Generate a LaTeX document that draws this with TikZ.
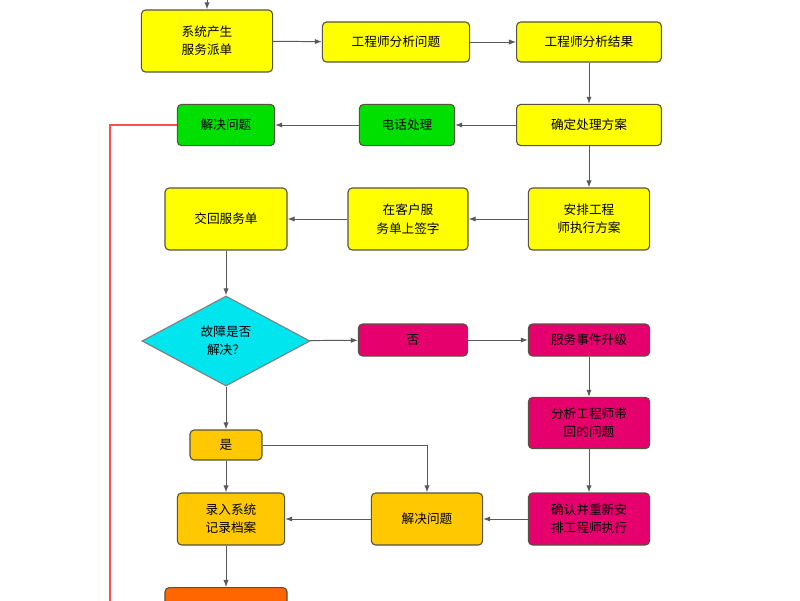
\documentclass[tikz,border=0pt]{standalone}
\usepackage{fontspec}
\setmainfont{Noto Sans CJK SC}
\usetikzlibrary{shapes.geometric,arrows.meta,positioning}
\definecolor{boxyellow}{HTML}{FFFF00}
\definecolor{boxgreen}{HTML}{00E000}
\definecolor{boxcyan}{HTML}{00E5EE}
\definecolor{boxpink}{HTML}{E6006E}
\definecolor{boxamber}{HTML}{FFC800}
\definecolor{boxorange}{HTML}{FF6600}
\tikzset{
  box/.style={draw=black!60!yellow!60!black, rounded corners=3pt, line width=0.8pt,
    align=center, font=\fontsize{9}{13}\selectfont, inner sep=1pt},
  flow/.style={-{Latex[length=5pt]}, draw=black!65, line width=0.7pt},
}
\begin{document}
\begin{tikzpicture}[x=0.025cm, y=-0.025cm]
  \useasboundingbox (0,0) rectangle (800,600);
  \begin{scope}
  \clip (0,0) rectangle (800,600);
  % top row
  \node[box, fill=boxyellow, minimum width=3.28cm, minimum height=1.55cm] (order) at (207,41) {系统产生\\服务派单};
  \node[box, fill=boxyellow, minimum width=3.68cm, minimum height=1cm] (analyse) at (396,42) {工程师分析问题};
  \node[box, fill=boxyellow, minimum width=3.62cm, minimum height=1cm] (result) at (589,42) {工程师分析结果};
  % second row
  \node[box, fill=boxyellow, minimum width=3.62cm, minimum height=1.03cm] (plan) at (589,125) {确定处理方案};
  \node[box, fill=boxgreen, minimum width=2.38cm, minimum height=1.03cm] (phone) at (407,125) {电话处理};
  \node[box, fill=boxgreen, minimum width=2.43cm, minimum height=1.03cm] (solved) at (226,125) {解决问题};
  % third row
  \node[box, fill=boxyellow, minimum width=3.03cm, minimum height=1.55cm] (assign) at (589,219) {安排工程\\师执行方案};
  \node[box, fill=boxyellow, minimum width=3cm, minimum height=1.55cm] (sign) at (408,219) {在客户服\\务单上签字};
  \node[box, fill=boxyellow, minimum width=3.05cm, minimum height=1.55cm] (return) at (226,219) {交回服务单};
  % decision
  \node[diamond, draw=black!50, fill=boxcyan, line width=0.8pt, minimum width=4.2cm, minimum height=2.25cm,
    aspect=1.87, inner sep=0pt, align=center, font=\fontsize{9}{13}\selectfont] (check) at (226,341) {故障是否\\解决？};
  \node[box, fill=boxpink, minimum width=2.73cm, minimum height=0.8cm] (no) at (413,340) {否};
  \node[box, fill=boxpink, minimum width=3.03cm, minimum height=0.8cm] (escalate) at (589,340) {服务事件升级};
  \node[box, fill=boxpink, minimum width=3.03cm, minimum height=1.28cm] (review) at (589,423) {分析工程师带\\回的问题};
  \node[box, fill=boxpink, minimum width=3.03cm, minimum height=1.3cm] (reassign) at (589,519) {确认并重新安\\排工程师执行};
  % bottom part
  \node[box, fill=boxamber, minimum width=1.8cm, minimum height=0.75cm] (yes) at (226,445) {是};
  \node[box, fill=boxamber, minimum width=2.78cm, minimum height=1.3cm] (fixed) at (427,519) {解决问题};
  \node[box, fill=boxamber, minimum width=2.68cm, minimum height=1.3cm] (record) at (231,519) {录入系统\\记录档案};
  \node[box, fill=boxorange, minimum width=3.05cm, minimum height=1.3cm, anchor=north] (finish) at (226,587) {};
  \coordinate (start) at (207,-10);
  \coordinate (redend) at (110,620);
  % connectors
  \draw[flow] (start) -- (order);
  \draw[flow] (order) -- (analyse);
  \draw[flow] (analyse) -- (result);
  \draw[flow] (result) -- (plan);
  \draw[flow] (plan) -- (phone);
  \draw[flow] (phone) -- (solved);
  \draw[flow] (plan) -- (assign);
  \draw[flow] (assign) -- (sign);
  \draw[flow] (sign) -- (return);
  \draw[flow] (return) -- (check);
  \draw[flow] (check) -- (no);
  \draw[flow] (no) -- (escalate);
  \draw[flow] (escalate) -- (review);
  \draw[flow] (review) -- (reassign);
  \draw[flow] (reassign) -- (fixed);
  \draw[flow] (fixed) -- (record);
  \draw[flow] (check) -- (yes);
  \draw[flow] (yes) -- (yes |- record.north);
  \draw[flow] (yes.east) -| (fixed.north);
  \draw[flow] (record.south -| yes) -- (finish);
  \draw[red!70, line width=0.8pt] (solved.west) -| (redend);
  \end{scope}
\end{tikzpicture}
\end{document}
